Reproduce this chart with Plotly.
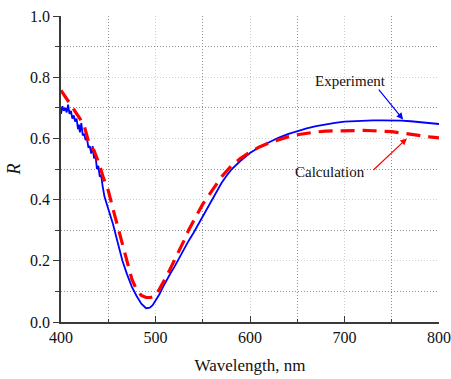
import plotly.graph_objects as go

# Experiment (blue, solid)
exp_wl = [400, 401.5, 403, 404.5, 406, 407.5, 409, 410.5, 412, 413.5, 415, 416.5, 418, 419, 420, 421.5,
          423, 424.5, 426, 427.5, 429, 430.5, 432, 433.5, 435, 436.5, 438, 439.5, 441, 442.5, 444, 446,
          448, 450, 452, 455, 460, 465, 470, 475, 480, 485, 490, 494, 497, 500, 504, 508, 512, 516, 520,
          525, 530, 535, 540, 545, 550, 555, 560, 565, 570, 575, 580, 590, 600, 610, 620, 630, 640, 650, 660, 670,
          680, 690, 700, 710, 720, 730, 740, 750, 760, 770, 780, 790, 800]
exp_R = [0.68, 0.705, 0.69, 0.70, 0.685, 0.71, 0.68, 0.69, 0.665, 0.675, 0.655, 0.665, 0.63, 0.645, 0.62, 0.65,
         0.61, 0.615, 0.595, 0.60, 0.57, 0.575, 0.55, 0.575, 0.535, 0.545, 0.50, 0.51, 0.475, 0.48, 0.445, 0.41,
         0.39, 0.37, 0.35, 0.32, 0.26, 0.20, 0.155, 0.115, 0.085, 0.06, 0.045, 0.047, 0.055, 0.07, 0.09, 0.115, 0.14, 0.16, 0.18,
         0.21, 0.238, 0.265, 0.29, 0.318, 0.345, 0.372, 0.40, 0.428, 0.455, 0.477, 0.497, 0.527, 0.552, 0.572, 0.588, 0.602, 0.614, 0.624, 0.633, 0.640,
         0.646, 0.651, 0.655, 0.657, 0.658, 0.659, 0.659, 0.659, 0.658, 0.656, 0.653, 0.650, 0.647]

# Calculation (red, dashed)
calc_wl = [400, 405, 410, 415, 420, 425, 430, 435, 440, 445, 450, 455, 460, 465, 470, 475, 480, 485, 490,
           495, 500, 505, 510, 515, 520, 525, 530, 535, 540, 545, 550, 560, 570, 580, 590, 600, 610, 620,
           630, 640, 650, 660, 670, 680, 690, 700, 710, 720, 730, 740, 750, 760, 770, 780, 790, 800]
calc_R = [0.757, 0.735, 0.712, 0.69, 0.665, 0.636, 0.58, 0.56, 0.52, 0.47, 0.43, 0.37, 0.31, 0.25, 0.19, 0.14, 0.105, 0.087, 0.08,
          0.08, 0.085, 0.11, 0.14, 0.17, 0.20, 0.235, 0.265, 0.30, 0.33, 0.36, 0.385, 0.43, 0.475, 0.51, 0.535, 0.555, 0.572, 0.585,
          0.595, 0.605, 0.612, 0.617, 0.621, 0.624, 0.625, 0.626, 0.626, 0.626, 0.625, 0.624, 0.622, 0.618, 0.613, 0.609, 0.605, 0.602]

x_ticks = [400, 500, 600, 700, 800]
y_ticks = [0.0, 0.2, 0.4, 0.6, 0.8, 1.0]

FONT = "Liberation Serif, Times New Roman, serif"
AXC = "#3a3a3a"

fig = go.Figure()
fig.add_trace(go.Scatter(x=exp_wl, y=exp_R, mode="lines", line=dict(color="#0000ff", width=1.8), showlegend=False))
fig.add_trace(go.Scatter(x=calc_wl, y=calc_R, mode="lines",
                         line=dict(color="#ff0000", width=3.2, dash="14px,8px"), showlegend=False))

common_grid = dict(showgrid=True, gridcolor="#cfcfcf", griddash="1px,2px", gridwidth=1)
minor_grid = dict(showgrid=True, gridcolor="#8f8f8f", griddash="1px,2px", gridwidth=1)

fig.update_layout(
    width=451, height=379,
    margin=dict(l=61, r=12, t=16, b=57, autoexpand=False),
    paper_bgcolor="white", plot_bgcolor="white",
    font=dict(family=FONT, size=16, color="#111"),
    xaxis=dict(range=[400, 800], tickvals=x_ticks, ticks="inside", ticklen=6, tickwidth=1.3, tickcolor=AXC,
               showline=True, linecolor=AXC, linewidth=1.5, zeroline=False, automargin=False,
               **common_grid,
               minor=dict(dtick=50, ticks="inside", ticklen=3, tickcolor=AXC, **minor_grid),
               title=dict(text="Wavelength, nm", font=dict(size=17), standoff=14),
               tickfont=dict(size=16)),
    yaxis=dict(range=[0, 1.0], tickvals=y_ticks, tickformat=".1f", ticks="outside", ticklen=6, tickwidth=1.3,
               tickcolor=AXC, showline=True, linecolor=AXC, linewidth=1.5, zeroline=False, automargin=False,
               **common_grid,
               minor=dict(dtick=0.1, ticks="outside", ticklen=4, tickcolor=AXC, **minor_grid),
               title=dict(text="<i>R</i>", font=dict(size=18), standoff=5),
               tickfont=dict(size=16)),
    xaxis2=dict(range=[400, 800], overlaying="x", side="top", tickvals=x_ticks, ticks="inside", ticklen=6,
                tickwidth=1.3, tickcolor=AXC, showticklabels=False, showgrid=False, showline=True,
                linecolor=AXC, linewidth=1.5, zeroline=False, automargin=False,
                minor=dict(dtick=50, ticks="inside", ticklen=3, tickcolor=AXC)),
    yaxis2=dict(range=[0, 1.0], overlaying="y", side="right", tickvals=y_ticks, ticks="inside", ticklen=6,
                tickwidth=1.3, tickcolor=AXC, showticklabels=False, showgrid=False, showline=True,
                linecolor=AXC, linewidth=1.5, zeroline=False, automargin=False,
                minor=dict(dtick=0.1, ticks="inside", ticklen=3, tickcolor=AXC)),
)

# Annotations
fig.add_annotation(x=706, y=0.787, text="Experiment", showarrow=False, font=dict(size=15, color="#111"))
fig.add_annotation(x=762, y=0.662, ax=735, ay=0.764, axref="x", ayref="y", text="", showarrow=True,
                   arrowhead=2, arrowsize=1.1, arrowwidth=1.2, arrowcolor="#0000ff")
fig.add_annotation(x=685, y=0.489, text="Calculation", showarrow=False, font=dict(size=15, color="#111"))
fig.add_annotation(x=766, y=0.600, ax=729, ay=0.492, axref="x", ayref="y", text="", showarrow=True,
                   arrowhead=2, arrowsize=1.1, arrowwidth=1.2, arrowcolor="#ff0000")

fig.write_html("out.html", config={"displayModeBar": False},
               post_script="document.body.style.margin='0';document.body.style.overflow='hidden';")
